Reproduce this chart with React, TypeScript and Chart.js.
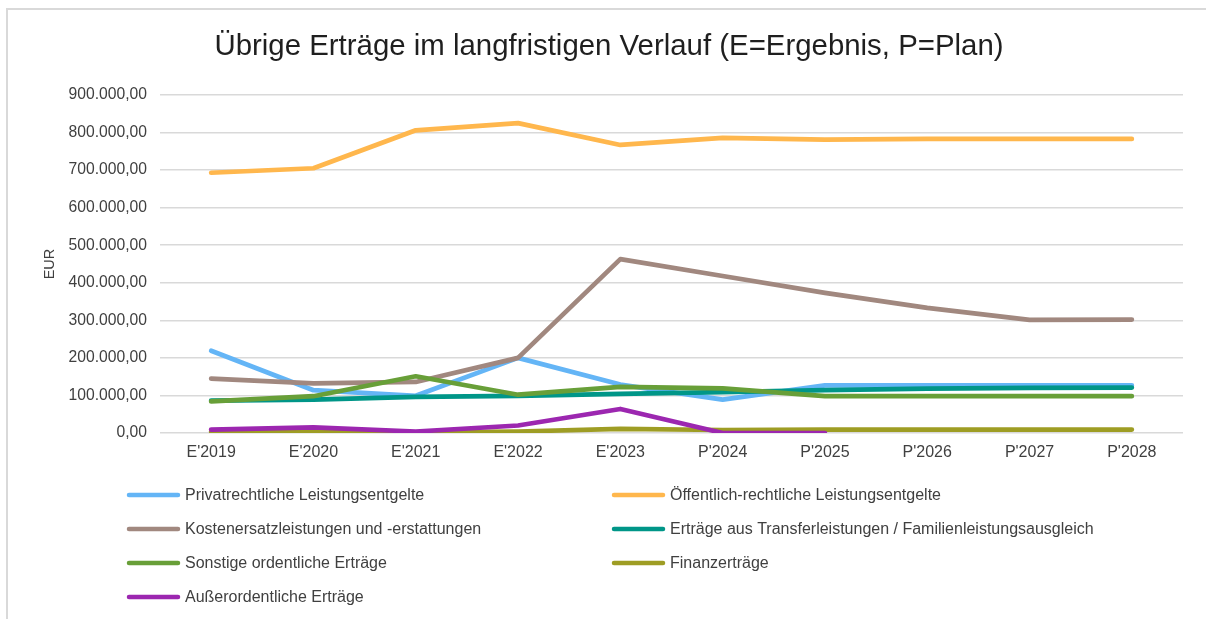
import React, { useEffect, useRef } from "react";
import { Chart, registerables } from "chart.js";

Chart.register(...registerables);

const chartTitle = "Übrige Erträge im langfristigen Verlauf (E=Ergebnis, P=Plan)";
const yAxisTitle = "EUR";
const categories = ["E'2019", "E'2020", "E'2021", "E'2022", "E'2023", "P'2024", "P'2025", "P'2026", "P'2027", "P'2028"];

const privatrechtliche = [219000, 114000, 99000, 200000, 129000, 89000, 127000, 127000, 127000, 127000];
const oeffentlichRechtliche = [693000, 705000, 806000, 825000, 767000, 786000, 781000, 783000, 783000, 783000];
const kostenersatz = [145000, 132000, 136000, 200000, 463000, 418000, 373000, 333000, 301000, 302000];
const transfer = [86000, 89000, 96000, 99000, 104000, 109000, 114000, 118000, 120000, 121000];
const sonstige = [84000, 98000, 151000, 102000, 123000, 119000, 98000, 98000, 98000, 98000];
const finanz = [4000, 5000, 2000, 4000, 11000, 8000, 9000, 9000, 9000, 9000];
const ausserordentlich: (number | null)[] = [9000, 15000, 4000, 20000, 64000, 0, 0, null, null, null];

const seriesLabels = [
  "Privatrechtliche Leistungsentgelte",
  "Öffentlich-rechtliche Leistungsentgelte",
  "Kostenersatzleistungen und -erstattungen",
  "Erträge aus Transferleistungen / Familienleistungsausgleich",
  "Sonstige ordentliche Erträge",
  "Finanzerträge",
  "Außerordentliche Erträge",
];
const seriesValues = [privatrechtliche, oeffentlichRechtliche, kostenersatz, transfer, sonstige, finanz, ausserordentlich];
const seriesColors = ["#64B5F6", "#FFB74D", "#A1887F", "#009688", "#689F38", "#9E9D24", "#9C27B0"];

const FONT = "'Liberation Sans', Arial, sans-serif";
// canvas placed at page (6, 8); offsets below are canvas coordinates
const CANVAS_W = 1200;
const CANVAS_H = 611;
const AREA_LEFT = 154;
const AREA_RIGHT = 1177;
const AREA_TOP = 87;
const AREA_BOTTOM = 425;

const fmt = (v: number) =>
  Math.round(v).toString().replace(/\B(?=(\d{3})+(?!\d))/g, ".") + ",00";

const decorPlugin = {
  id: "decor",
  beforeDraw(chart: any) {
    const ctx = chart.ctx;
    ctx.save();
    ctx.fillStyle = "#ffffff";
    ctx.fillRect(0, 0, chart.width, chart.height);
    ctx.fillStyle = "#d9d9d9";
    ctx.fillRect(0, 0, chart.width, 2);
    ctx.fillRect(0, 0, 2, chart.height);
    ctx.restore();
  },
  afterDraw(chart: any) {
    const ctx = chart.ctx;
    ctx.save();
    // title
    ctx.fillStyle = "#1f1f1f";
    ctx.font = `29.4px ${FONT}`;
    ctx.textAlign = "center";
    ctx.textBaseline = "middle";
    ctx.fillText(chartTitle, 603, 39);
    // legend
    ctx.font = `16px ${FONT}`;
    ctx.textAlign = "left";
    chart.data.datasets.forEach((ds: any, i: number) => {
      const col = i % 2;
      const row = Math.floor(i / 2);
      const x0 = col === 0 ? 121 : 606;
      const y = 487 + row * 34;
      ctx.strokeStyle = ds.borderColor;
      ctx.lineWidth = 4.5;
      ctx.lineCap = "round";
      ctx.beginPath();
      ctx.moveTo(x0 + 2, y);
      ctx.lineTo(x0 + 51, y);
      ctx.stroke();
      ctx.fillStyle = "#404040";
      ctx.fillText(ds.label, x0 + 58, y + 1);
    });
    ctx.restore();
  },
};

export default function App() {
  const ref = useRef<HTMLCanvasElement | null>(null);

  useEffect(() => {
    if (!ref.current) return;
    const chart = new Chart(ref.current, {
      type: "line",
      data: {
        labels: categories,
        datasets: seriesLabels.map((label, i) => ({
          label,
          data: seriesValues[i],
          borderColor: seriesColors[i],
          backgroundColor: seriesColors[i],
          borderWidth: 4.7,
          borderCapStyle: "round",
          borderJoinStyle: "round",
          pointRadius: 0,
          pointHoverRadius: 0,
          tension: 0,
          fill: false,
          spanGaps: false,
          order: seriesLabels.length - i,
        })),
      },
      options: {
        responsive: false,
        animation: false,
        events: [],
        layout: {
          padding: { top: AREA_TOP, left: 0, right: CANVAS_W - AREA_RIGHT, bottom: CANVAS_H - AREA_BOTTOM - 40 },
        },
        plugins: {
          legend: { display: false },
          title: { display: false },
          tooltip: { enabled: false },
        },
        scales: {
          x: {
            offset: true,
            grid: { display: false, drawTicks: false },
            border: { display: false },
            ticks: {
              color: "#404040",
              font: { family: FONT, size: 16 },
              padding: 10,
              maxRotation: 0,
              autoSkip: false,
            },
            afterFit(scale: any) {
              scale.height = 40;
            },
          },
          y: {
            min: 0,
            max: 900000,
            grid: { color: "#d9d9d9", lineWidth: 1.5, drawTicks: false },
            border: { display: false },
            ticks: {
              stepSize: 100000,
              color: "#404040",
              font: { family: FONT, size: 15.7 },
              padding: 13,
              callback: (v: any) => fmt(Number(v)),
            },
            title: {
              display: true,
              text: yAxisTitle,
              color: "#404040",
              font: { family: FONT, size: 14.5 },
              padding: { top: 35, bottom: 0 },
            },
            afterFit(scale: any) {
              scale.width = AREA_LEFT;
            },
          },
        },
      },
      plugins: [decorPlugin],
    } as any);
    return () => chart.destroy();
  }, []);

  return (
    <canvas
      ref={ref}
      width={CANVAS_W}
      height={CANVAS_H}
      style={{ position: "fixed", left: 6, top: 8, display: "block", width: CANVAS_W, height: CANVAS_H }}
    />
  );
}
